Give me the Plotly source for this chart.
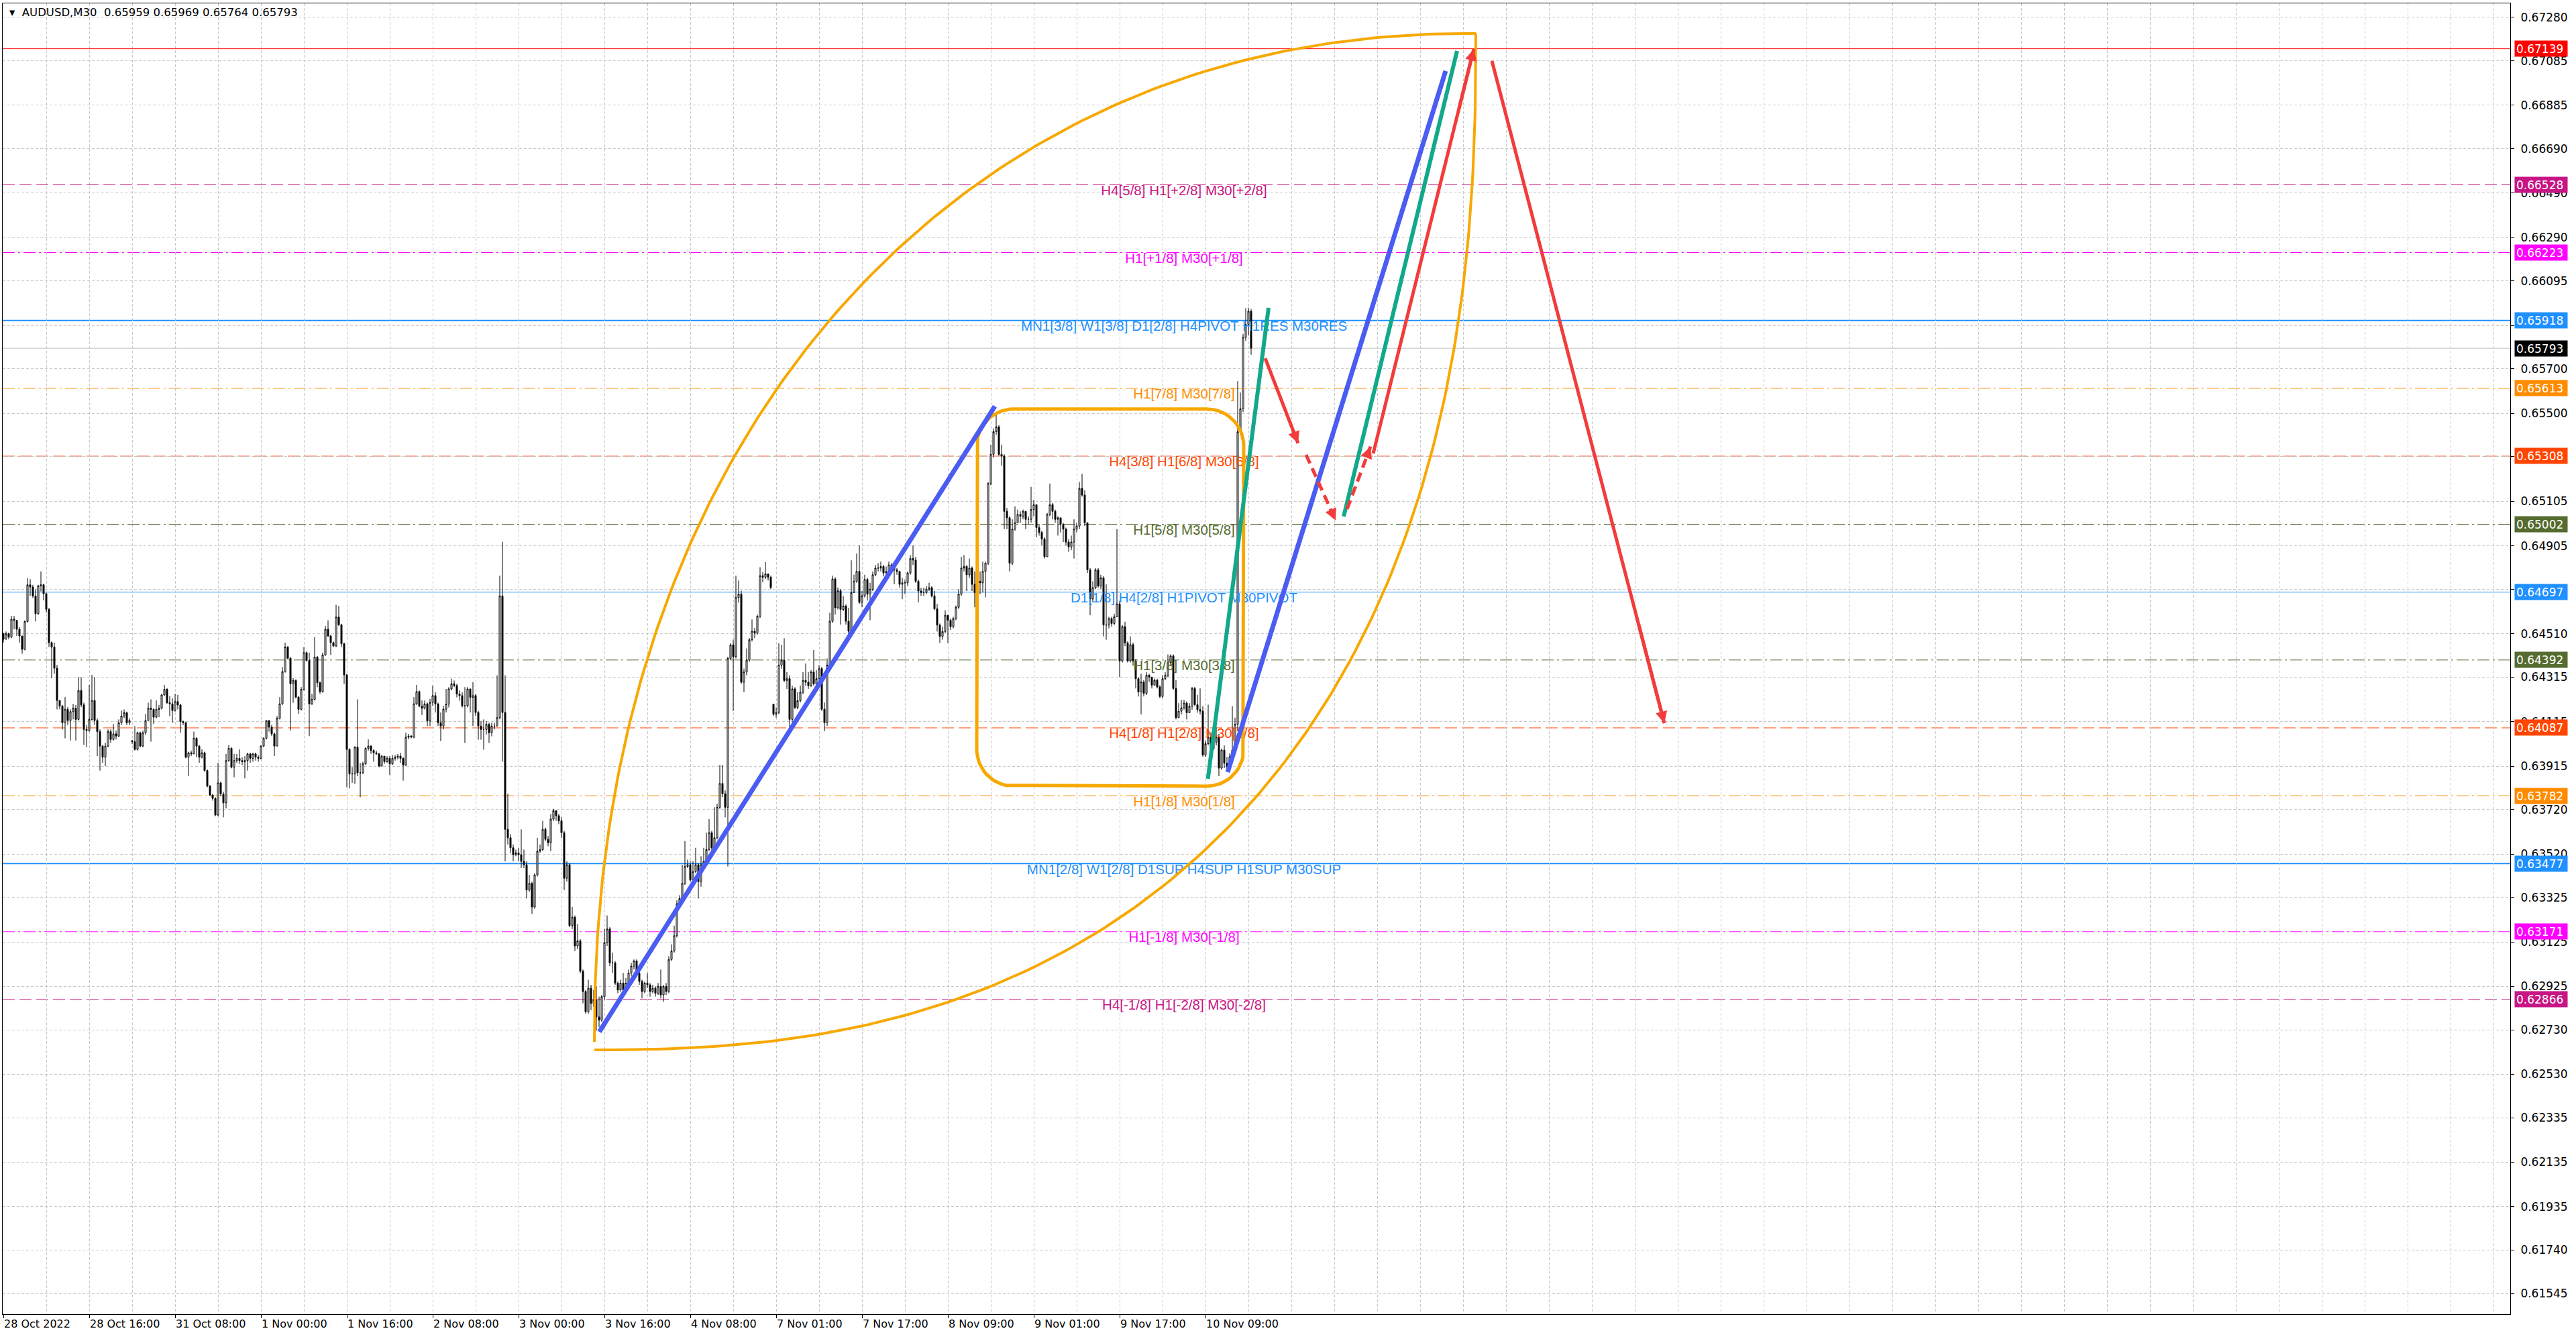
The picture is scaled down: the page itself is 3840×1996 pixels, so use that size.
import numpy as np
import plotly.graph_objects as go

# ---------------- DATA ----------------
title_symbol = "AUDUSD,M30"
title_ohlc = ["0.65959", "0.65969", "0.65764", "0.65793"]

first_open = 0.64510
gap_bars = [48, 287]
gap_opens = [0.64030, 0.64194]

close = [
 0.64485, 0.64510, 0.64495, 0.64575, 0.64570, 0.64530, 0.64500, 0.64440, 0.64565, 0.64730,
 0.64720, 0.64680, 0.64600, 0.64725, 0.64730, 0.64690, 0.64620, 0.64470, 0.64450, 0.64355,
 0.64210, 0.64185, 0.64110, 0.64170, 0.64120, 0.64160, 0.64175, 0.64125, 0.64255, 0.64190,
 0.64080, 0.64075, 0.64125, 0.64210, 0.64120, 0.64070, 0.64005, 0.63955, 0.64005, 0.64070,
 0.64035, 0.64060, 0.64050, 0.64110, 0.64140, 0.64155, 0.64110, 0.64120, 0.64025, 0.63990,
 0.64065, 0.64005, 0.64065, 0.64120, 0.64175, 0.64170, 0.64135, 0.64170, 0.64175, 0.64235,
 0.64260, 0.64200, 0.64195, 0.64165, 0.64205, 0.64190, 0.64115, 0.64110, 0.63955, 0.63975,
 0.63970, 0.64040, 0.64005, 0.63955, 0.63975, 0.63895, 0.63825, 0.63785, 0.63770, 0.63695,
 0.63840, 0.63790, 0.63750, 0.63940, 0.63995, 0.63910, 0.63940, 0.63950, 0.63940, 0.63935,
 0.63940, 0.63970, 0.63950, 0.63970, 0.63955, 0.63950, 0.64005, 0.64040, 0.64120, 0.64090,
 0.64060, 0.64005, 0.64130, 0.64195, 0.64340, 0.64450, 0.64400, 0.64285, 0.64300, 0.64225,
 0.64170, 0.64260, 0.64425, 0.64390, 0.64195, 0.64215, 0.64405, 0.64290, 0.64250, 0.64415,
 0.64530, 0.64500, 0.64470, 0.64455, 0.64585, 0.64550, 0.64465, 0.64325, 0.63990, 0.63880,
 0.63880, 0.64000, 0.63885, 0.63885, 0.63925, 0.63995, 0.64005, 0.63985, 0.63975, 0.63970,
 0.63915, 0.63960, 0.63935, 0.63950, 0.63925, 0.63950, 0.63955, 0.63960, 0.63950, 0.63920,
 0.64045, 0.64050, 0.64045, 0.64195, 0.64250, 0.64185, 0.64175, 0.64195,
 0.64118, 0.64201, 0.64232, 0.64194, 0.64110, 0.64095, 0.64171, 0.64194, 0.64262, 0.64285,
 0.64277, 0.64239, 0.64232, 0.64186, 0.64186, 0.64262, 0.64224, 0.64232, 0.64156, 0.64095,
 0.64080, 0.64080, 0.64103, 0.64065, 0.64095, 0.64095, 0.64133, 0.64680, 0.64156, 0.63631,
 0.63593, 0.63548, 0.63517, 0.63525, 0.63517, 0.63487, 0.63472, 0.63358, 0.63388, 0.63282,
 0.63426, 0.63533, 0.63540, 0.63631, 0.63586, 0.63571, 0.63677, 0.63715, 0.63692, 0.63669,
 0.63616, 0.63411, 0.63472, 0.63198, 0.63236, 0.63107, 0.63130, 0.62993, 0.62902, 0.62811,
 0.62917, 0.62849, 0.62864, 0.62788, 0.62773, 0.62879, 0.63122, 0.63183, 0.63031, 0.63031,
 0.62940, 0.62909, 0.62940, 0.62909, 0.62940, 0.62985, 0.63016, 0.63039, 0.62985, 0.62947,
 0.62902, 0.62940, 0.62932, 0.62902, 0.62917, 0.62894, 0.62925, 0.62887, 0.62925, 0.62902,
 0.63046, 0.63084, 0.63153, 0.63297, 0.63320, 0.63388, 0.63464, 0.63472, 0.63403, 0.63441,
 0.63472, 0.63396, 0.63472, 0.63487, 0.63540, 0.63616, 0.63548, 0.63593, 0.63730, 0.63837,
 0.63791, 0.63730, 0.64399, 0.64460, 0.64407, 0.64673, 0.64688, 0.64292, 0.64338, 0.64391,
 0.64483, 0.64521, 0.64513, 0.64589, 0.64771, 0.64764, 0.64779, 0.64764, 0.64718, 0.64148,
 0.64156, 0.64369, 0.64391, 0.64300, 0.64308, 0.64125, 0.64262, 0.64179, 0.64209, 0.64247,
 0.64300, 0.64292, 0.64277, 0.64338, 0.64285, 0.64308, 0.64353, 0.64171, 0.64110, 0.64369,
 0.64566, 0.64756, 0.64627, 0.64703, 0.64619, 0.64635, 0.64566, 0.64521, 0.64695,
 0.64746, 0.64790, 0.64651, 0.64680, 0.64754, 0.64688, 0.64710, 0.64775, 0.64805, 0.64805,
 0.64812, 0.64783, 0.64790, 0.64819, 0.64805, 0.64797, 0.64790, 0.64732, 0.64739, 0.64739,
 0.64783, 0.64848, 0.64841, 0.64746, 0.64702, 0.64695, 0.64695, 0.64710, 0.64717, 0.64680,
 0.64622, 0.64549, 0.64498, 0.64520, 0.64593, 0.64571, 0.64542, 0.64578, 0.64629, 0.64688,
 0.64805, 0.64812, 0.64775, 0.64805, 0.64732, 0.64695, 0.64746, 0.64739, 0.64790, 0.64827,
 0.65185, 0.65316, 0.65418, 0.65440, 0.65316, 0.65309, 0.65060, 0.65031, 0.64827, 0.64980,
 0.65009, 0.65046, 0.65038, 0.65060, 0.65024, 0.65024, 0.65068, 0.65090, 0.64987, 0.64965,
 0.64936, 0.64856, 0.65046, 0.65090, 0.65060, 0.65024, 0.65031, 0.65002, 0.64980, 0.64922,
 0.64900, 0.64922, 0.64980, 0.64994, 0.65163, 0.65133, 0.65009, 0.64797, 0.64666, 0.64717,
 0.64797, 0.64724, 0.64761, 0.64549, 0.64549, 0.64578, 0.64556, 0.64586, 0.64644, 0.64388,
 0.64542, 0.64469, 0.64388, 0.64461, 0.64388, 0.64308, 0.64249, 0.64293, 0.64242, 0.64323,
 0.64315, 0.64279, 0.64301, 0.64271, 0.64228, 0.64308, 0.64323, 0.64381, 0.64410, 0.64264,
 0.64133, 0.64162, 0.64177, 0.64198, 0.64155, 0.64184, 0.64264, 0.64191, 0.64169, 0.64162,
 0.63965, 0.64016, 0.64045, 0.63994, 0.64023, 0.64045, 0.63906, 0.63987, 0.63928, 0.63913,
 0.63957, 0.63987, 0.64103, 0.65418, 0.65521, 0.65842, 0.65900, 0.65959, 0.65793,
]

high = [
 0.64515, 0.64520, 0.64515, 0.64590, 0.64590, 0.64550, 0.64540, 0.64480, 0.64570, 0.64760,
 0.64755, 0.64730, 0.64710, 0.64730, 0.64790, 0.64735, 0.64695, 0.64625, 0.64475, 0.64470,
 0.64370, 0.64210, 0.64190, 0.64225, 0.64180, 0.64170, 0.64195, 0.64190, 0.64315, 0.64315,
 0.64200, 0.64100, 0.64280, 0.64325, 0.64315, 0.64130, 0.64080, 0.64010, 0.64020, 0.64080,
 0.64080, 0.64105, 0.64075, 0.64125, 0.64165, 0.64170, 0.64160, 0.64130, 0.64030, 0.64095,
 0.64070, 0.64070, 0.64075, 0.64150, 0.64200, 0.64215, 0.64175, 0.64210, 0.64190, 0.64240,
 0.64280, 0.64265, 0.64230, 0.64220, 0.64240, 0.64235, 0.64195, 0.64120, 0.64115, 0.63980,
 0.63985, 0.64070, 0.64045, 0.64010, 0.63990, 0.63980, 0.63900, 0.63830, 0.63790, 0.63775,
 0.63930, 0.63845, 0.63800, 0.63970, 0.64010, 0.64000, 0.63970, 0.63970, 0.63990, 0.63955,
 0.63960, 0.63975, 0.63975, 0.63975, 0.63975, 0.63965, 0.64010, 0.64045, 0.64120, 0.64120,
 0.64100, 0.64065, 0.64140, 0.64225, 0.64360, 0.64470, 0.64455, 0.64405, 0.64310, 0.64305,
 0.64230, 0.64270, 0.64450, 0.64430, 0.64425, 0.64240, 0.64495, 0.64410, 0.64295, 0.64425,
 0.64545, 0.64570, 0.64505, 0.64475, 0.64640, 0.64635, 0.64555, 0.64470, 0.64330, 0.63995,
 0.63910, 0.64005, 0.64215, 0.63930, 0.63935, 0.64000, 0.64035, 0.64010, 0.63990, 0.63985,
 0.63975, 0.63965, 0.63955, 0.63960, 0.63960, 0.63965, 0.63965, 0.63970, 0.63975, 0.63955,
 0.64065, 0.64060, 0.64055, 0.64225, 0.64280, 0.64255, 0.64210, 0.64210,
 0.64201, 0.64217, 0.64277, 0.64247, 0.64201, 0.64156, 0.64186, 0.64262, 0.64270, 0.64308,
 0.64300, 0.64285, 0.64255, 0.64247, 0.64270, 0.64270, 0.64239, 0.64292, 0.64239, 0.64163,
 0.64118, 0.64125, 0.64118, 0.64110, 0.64110, 0.64110, 0.64323, 0.64771, 0.64923, 0.64323,
 0.63791, 0.63609, 0.63563, 0.63540, 0.63548, 0.63631, 0.63540, 0.63487, 0.63426, 0.63396,
 0.63434, 0.63593, 0.63563, 0.63669, 0.63639, 0.63601, 0.63700, 0.63723, 0.63715, 0.63700,
 0.63685, 0.63624, 0.63487, 0.63479, 0.63282, 0.63244, 0.63206, 0.63137, 0.63001, 0.62909,
 0.62955, 0.62932, 0.62909, 0.62925, 0.62879, 0.62887, 0.63183, 0.63244, 0.63191, 0.63077,
 0.63039, 0.62947, 0.62955, 0.62985, 0.62963, 0.63001, 0.63031, 0.63046, 0.63046, 0.62993,
 0.62955, 0.62947, 0.62985, 0.62940, 0.62932, 0.62925, 0.62940, 0.63001, 0.62932, 0.62940,
 0.63061, 0.63114, 0.63198, 0.63312, 0.63335, 0.63472, 0.63578, 0.63495, 0.63487, 0.63487,
 0.63548, 0.63479, 0.63510, 0.63548, 0.63616, 0.63677, 0.63624, 0.63730, 0.63746, 0.63920,
 0.63920, 0.63806, 0.64407, 0.64467, 0.64483, 0.64771, 0.64749, 0.64703, 0.64353, 0.64444,
 0.64490, 0.64574, 0.64536, 0.64596, 0.64809, 0.64787, 0.64832, 0.64779, 0.64771, 0.64194,
 0.64179, 0.64467, 0.64460, 0.64490, 0.64338, 0.64323, 0.64277, 0.64270, 0.64247, 0.64277,
 0.64338, 0.64376, 0.64338, 0.64346, 0.64437, 0.64346, 0.64369, 0.64361, 0.64201, 0.64399,
 0.64604, 0.64771, 0.64764, 0.64718, 0.64711, 0.64680, 0.64642, 0.64627, 0.64840,
 0.64775, 0.64870, 0.64907, 0.64702, 0.64775, 0.64761, 0.64739, 0.64790, 0.64819, 0.64827,
 0.64834, 0.64819, 0.64812, 0.64834, 0.64827, 0.64805, 0.64805, 0.64790, 0.64761, 0.64754,
 0.64790, 0.64863, 0.64907, 0.64856, 0.64754, 0.64717, 0.64717, 0.64724, 0.64739, 0.64724,
 0.64702, 0.64644, 0.64556, 0.64542, 0.64615, 0.64593, 0.64578, 0.64586, 0.64637, 0.64710,
 0.64856, 0.64863, 0.64819, 0.64848, 0.64812, 0.64790, 0.64761, 0.64790, 0.64834, 0.64834,
 0.65192, 0.65360, 0.65433, 0.65506, 0.65448, 0.65360, 0.65316, 0.65075, 0.65038, 0.65024,
 0.65082, 0.65068, 0.65060, 0.65068, 0.65060, 0.65038, 0.65170, 0.65112, 0.65090, 0.65002,
 0.64973, 0.64943, 0.65053, 0.65185, 0.65097, 0.65068, 0.65038, 0.65031, 0.65009, 0.64987,
 0.64936, 0.64951, 0.65024, 0.65009, 0.65192, 0.65228, 0.65155, 0.65009, 0.64805, 0.64746,
 0.64805, 0.64805, 0.64775, 0.64768, 0.64732, 0.64586, 0.64586, 0.64600, 0.64980, 0.64658,
 0.64549, 0.64564, 0.64476, 0.64498, 0.64469, 0.64396, 0.64315, 0.64330, 0.64301, 0.64337,
 0.64330, 0.64315, 0.64308, 0.64308, 0.64279, 0.64323, 0.64337, 0.64417, 0.64417, 0.64417,
 0.64301, 0.64198, 0.64213, 0.64213, 0.64206, 0.64198, 0.64271, 0.64271, 0.64235, 0.64264,
 0.64184, 0.64030, 0.64191, 0.64067, 0.64060, 0.64089, 0.64060, 0.63994, 0.64008, 0.63957,
 0.63972, 0.64184, 0.64133, 0.65645, 0.65594, 0.65857, 0.65973, 0.65975, 0.65969,
]

low = [
 0.64470, 0.64490, 0.64485, 0.64490, 0.64530, 0.64500, 0.64470, 0.64420, 0.64435, 0.64560,
 0.64680, 0.64670, 0.64565, 0.64595, 0.64700, 0.64660, 0.64605, 0.64450, 0.64310, 0.64330,
 0.64170, 0.64170, 0.64080, 0.64040, 0.64100, 0.64030, 0.64125, 0.64030, 0.64120, 0.64180,
 0.64010, 0.64000, 0.64070, 0.64120, 0.64100, 0.63960, 0.63895, 0.63930, 0.63915, 0.64000,
 0.64020, 0.64030, 0.64035, 0.64045, 0.64100, 0.64130, 0.64100, 0.64100, 0.64015, 0.63985,
 0.63985, 0.64000, 0.64000, 0.64055, 0.64120, 0.64025, 0.64105, 0.64130, 0.64135, 0.64170,
 0.64230, 0.64195, 0.64140, 0.64110, 0.64160, 0.64170, 0.64065, 0.64100, 0.63950, 0.63870,
 0.63960, 0.63970, 0.63955, 0.63930, 0.63950, 0.63890, 0.63820, 0.63780, 0.63760, 0.63690,
 0.63690, 0.63780, 0.63685, 0.63725, 0.63935, 0.63905, 0.63865, 0.63930, 0.63925, 0.63920,
 0.63860, 0.63895, 0.63930, 0.63935, 0.63940, 0.63935, 0.63945, 0.64000, 0.64035, 0.64070,
 0.64050, 0.63960, 0.64005, 0.64125, 0.64190, 0.64335, 0.64395, 0.64075, 0.64200, 0.64220,
 0.64150, 0.64165, 0.64255, 0.64385, 0.64050, 0.64190, 0.64210, 0.64270, 0.64240, 0.64245,
 0.64410, 0.64495, 0.64415, 0.64450, 0.64450, 0.64545, 0.64450, 0.64285, 0.63820, 0.63815,
 0.63840, 0.63835, 0.63870, 0.63775, 0.63880, 0.63920, 0.63985, 0.63970, 0.63935, 0.63965,
 0.63910, 0.63915, 0.63925, 0.63930, 0.63875, 0.63920, 0.63940, 0.63945, 0.63930, 0.63850,
 0.63915, 0.64035, 0.64040, 0.64040, 0.64190, 0.64180, 0.64145, 0.64170,
 0.64095, 0.64095, 0.64186, 0.64156, 0.64095, 0.64027, 0.64080, 0.64156, 0.64179, 0.64255,
 0.64270, 0.64224, 0.64209, 0.64179, 0.64019, 0.64179, 0.64156, 0.64095, 0.64141, 0.64034,
 0.64034, 0.63989, 0.64057, 0.64019, 0.64049, 0.64080, 0.64095, 0.64125, 0.63935, 0.63487,
 0.63563, 0.63525, 0.63487, 0.63510, 0.63487, 0.63457, 0.63457, 0.63320, 0.63350, 0.63251,
 0.63274, 0.63419, 0.63525, 0.63533, 0.63578, 0.63555, 0.63533, 0.63669, 0.63669, 0.63654,
 0.63593, 0.63358, 0.63396, 0.63191, 0.63183, 0.63084, 0.63092, 0.62985, 0.62849, 0.62803,
 0.62803, 0.62818, 0.62833, 0.62727, 0.62742, 0.62765, 0.62864, 0.63107, 0.63016, 0.62985,
 0.62932, 0.62894, 0.62902, 0.62894, 0.62902, 0.62932, 0.62970, 0.63001, 0.62970, 0.62932,
 0.62871, 0.62894, 0.62917, 0.62879, 0.62894, 0.62879, 0.62887, 0.62871, 0.62856, 0.62887,
 0.62894, 0.63039, 0.63077, 0.63145, 0.63289, 0.63312, 0.63381, 0.63457, 0.63396, 0.63396,
 0.63434, 0.63320, 0.63373, 0.63464, 0.63479, 0.63533, 0.63533, 0.63540, 0.63586, 0.63723,
 0.63776, 0.63685, 0.63464, 0.64391, 0.64163, 0.64399, 0.64650, 0.64285, 0.64247, 0.64323,
 0.64384, 0.64475, 0.64490, 0.64505, 0.64581, 0.64741, 0.64756, 0.64749, 0.64711, 0.64141,
 0.64133, 0.64148, 0.64353, 0.64292, 0.64262, 0.64080, 0.64110, 0.64171, 0.64171, 0.64201,
 0.64239, 0.64277, 0.64262, 0.64270, 0.64277, 0.64277, 0.64292, 0.64163, 0.64072, 0.64095,
 0.64361, 0.64559, 0.64596, 0.64619, 0.64551, 0.64612, 0.64551, 0.64505, 0.64513,
 0.64717, 0.64739, 0.64644, 0.64629, 0.64673, 0.64659, 0.64571, 0.64702, 0.64768, 0.64790,
 0.64790, 0.64768, 0.64775, 0.64783, 0.64790, 0.64732, 0.64775, 0.64717, 0.64666, 0.64688,
 0.64724, 0.64775, 0.64819, 0.64739, 0.64651, 0.64680, 0.64680, 0.64688, 0.64702, 0.64673,
 0.64615, 0.64520, 0.64469, 0.64483, 0.64512, 0.64469, 0.64527, 0.64534, 0.64571, 0.64622,
 0.64680, 0.64790, 0.64702, 0.64761, 0.64702, 0.64629, 0.64695, 0.64688, 0.64695, 0.64673,
 0.64819, 0.65177, 0.65302, 0.65404, 0.65309, 0.65265, 0.64980, 0.64980, 0.64790, 0.64819,
 0.64973, 0.65009, 0.65009, 0.65024, 0.64980, 0.65002, 0.65009, 0.65038, 0.64943, 0.64951,
 0.64907, 0.64848, 0.64856, 0.65038, 0.65024, 0.65009, 0.64951, 0.64965, 0.64922, 0.64907,
 0.64878, 0.64885, 0.64848, 0.64965, 0.64980, 0.65126, 0.64994, 0.64783, 0.64593, 0.64651,
 0.64710, 0.64717, 0.64710, 0.64498, 0.64483, 0.64534, 0.64542, 0.64549, 0.64629, 0.64315,
 0.64381, 0.64454, 0.64381, 0.64381, 0.64366, 0.64264, 0.64228, 0.64147, 0.64228, 0.64235,
 0.64293, 0.64264, 0.64279, 0.64264, 0.64220, 0.64220, 0.64301, 0.64315, 0.64366, 0.64257,
 0.64125, 0.64133, 0.64147, 0.64169, 0.64125, 0.64155, 0.64169, 0.64184, 0.64155, 0.64147,
 0.63957, 0.63957, 0.64008, 0.63987, 0.63987, 0.64008, 0.63870, 0.63899, 0.63906, 0.63906,
 0.63906, 0.63950, 0.63972, 0.64074, 0.65404, 0.65506, 0.65827, 0.65850, 0.65764,
]

# time axis labels (bar index of label, text)
x_tick_bars = [0, 32, 64, 96, 128, 160, 192, 224, 256, 288, 320, 352, 384, 416, 448]
x_tick_text = ["28 Oct 2022", "28 Oct 16:00", "31 Oct 08:00", "1 Nov 00:00", "1 Nov 16:00",
               "2 Nov 08:00", "3 Nov 00:00", "3 Nov 16:00", "4 Nov 08:00", "7 Nov 01:00",
               "7 Nov 17:00", "8 Nov 09:00", "9 Nov 01:00", "9 Nov 17:00", "10 Nov 09:00"]

y_tick_vals = [0.67280, 0.67085, 0.66885, 0.66690, 0.66490, 0.66290, 0.66095, 0.65895,
               0.65700, 0.65500, 0.65305, 0.65105, 0.64905, 0.64710, 0.64510, 0.64315,
               0.64115, 0.63915, 0.63720, 0.63520, 0.63325, 0.63125, 0.62925, 0.62730,
               0.62530, 0.62335, 0.62135, 0.61935, 0.61740, 0.61545]
# tick values whose label sits fully under a price tag in the reference
y_tick_hidden = [0.65895, 0.65305, 0.64710]

# Murrey-math style levels
level_prices = [0.67139, 0.66528, 0.66223, 0.65918, 0.65613, 0.65308, 0.65002,
                0.64697, 0.64392, 0.64087, 0.63782, 0.63477, 0.63171, 0.62866]
level_labels = ["", "H4[5/8] H1[+2/8] M30[+2/8]", "H1[+1/8] M30[+1/8]",
                "MN1[3/8] W1[3/8] D1[2/8] H4PIVOT H1RES M30RES", "H1[7/8] M30[7/8]",
                "H4[3/8] H1[6/8] M30[6/8]", "H1[5/8] M30[5/8]",
                "D1[1/8] H4[2/8] H1PIVOT M30PIVOT", "H1[3/8] M30[3/8]",
                "H4[1/8] H1[2/8] M30[2/8]", "H1[1/8] M30[1/8]",
                "MN1[2/8] W1[2/8] D1SUP H4SUP H1SUP M30SUP", "H1[-1/8] M30[-1/8]",
                "H4[-1/8] H1[-2/8] M30[-2/8]"]
level_colors = ["#FF0000", "#C71585", "#FF00FF", "#1E90FF", "#FF8C00", "#FF4500", "#556B2F",
                "#1E90FF", "#556B2F", "#FF4500", "#FF8C00", "#1E90FF", "#FF00FF", "#C71585"]
level_styles = ["solid", "dash", "dashdot", "solid", "dashdot", "dash", "dashdot",
                "solid", "dashdot", "dash", "dashdot", "solid", "dashdot", "dash"]
level_widths = [1, 1, 1, 2, 1, 1, 1, 1, 1, 1, 1, 2, 1, 1]
label_bar = 440

bid_price = 0.65793

# drawn objects (bar index, price)
# lens made of two quarter-superellipse arcs sharing end bars
arc_bars = [220.25, 548.75]
arc_upper_prices = [0.62676, 0.67208]
arc_lower_prices = [0.62640, 0.67208]
arc_upper_power = 2.15
arc_lower_power = 2.42

box_bars = [362.75, 462.25]
box_prices = [0.63825, 0.65520]
box_corner_px = 55

blue_bars = [[222.1, 369.5], [456.25, 537.5]]
blue_prices = [[0.62721, 0.65532], [0.63888, 0.67039]]
green_bars = [[448.9, 471.5], [499.5, 541.75]]
green_prices = [[0.63858, 0.65975], [0.65037, 0.67129]]
red_bars = [[470.25, 482.5], [485.5, 496.5], [500.75, 509.5], [510.5, 548.0], [554.75, 619.0]]
red_prices = [[0.65748, 0.65366], [0.65314, 0.65019], [0.65070, 0.65351], [0.65320, 0.67138],
              [0.67084, 0.64108]]
red_dashed = [False, True, True, False, False]

# ---------------- FIGURE ----------------
W, H = 3840, 1996
ML, MR, MT, MB = 4, 98, 5, 37
x_range = [-0.25, 934.25]
y_range = [0.61452, 0.67343]
px_per_bar = (W - ML - MR) / (x_range[1] - x_range[0])
px_per_price = (H - MT - MB) / (y_range[1] - y_range[0])

n = len(close)
assert len(high) == n and len(low) == n, (len(close), len(high), len(low))
bars = list(range(n))
opens = [first_open] + close[:-1]
for b, o in zip(gap_bars, gap_opens):
    opens[b] = o
hi = [max(h, o, c) for h, o, c in zip(high, opens, close)]
lo = [min(l, o, c) for l, o, c in zip(low, opens, close)]

FONT = "DejaVu Sans"
LABEL_FONT = "Liberation Sans, Arial, sans-serif"
DASHES = {"solid": "solid", "dash": "18px,7px", "dashdot": "18px,5px,3px,5px"}

fig = go.Figure()

# level labels (drawn beneath the candles)
lab_idx = [k for k, t in enumerate(level_labels) if t]
fig.add_trace(go.Scatter(
    x=[label_bar] * len(lab_idx), y=[level_prices[k] for k in lab_idx],
    text=[level_labels[k] for k in lab_idx], mode="text", textposition="bottom center",
    textfont=dict(family=LABEL_FONT, size=20.5, color=[level_colors[k] for k in lab_idx]),
    hoverinfo="skip", showlegend=False))

fig.add_trace(go.Candlestick(
    x=bars, open=opens, high=hi, low=lo, close=close,
    increasing=dict(line=dict(color="black", width=1), fillcolor="white"),
    decreasing=dict(line=dict(color="black", width=1), fillcolor="black"),
    whiskerwidth=0, showlegend=False, hoverinfo="skip"))

ORANGE = "#F7A800"
theta = np.linspace(0.0, np.pi / 2, 160)
a_bar = arc_bars[1] - arc_bars[0]
# upper arc: leaves the start point vertically, reaches the end point horizontally
b_up = arc_upper_prices[1] - arc_upper_prices[0]
ux = arc_bars[1] - a_bar * np.cos(theta) ** (2 / arc_upper_power)
uy = arc_upper_prices[0] + b_up * np.sin(theta) ** (2 / arc_upper_power)
# lower arc: leaves the start point horizontally, reaches the end point vertically
b_lo = arc_lower_prices[1] - arc_lower_prices[0]
lx = arc_bars[0] + a_bar * np.cos(theta) ** (2 / arc_lower_power)
ly = arc_lower_prices[1] - b_lo * np.sin(theta) ** (2 / arc_lower_power)
for xs, ys in [(ux, uy), (lx, ly)]:
    fig.add_trace(go.Scatter(x=xs, y=ys, mode="lines", line=dict(color=ORANGE, width=4),
                             hoverinfo="skip", showlegend=False))

# rounded rectangle
rx = box_corner_px / px_per_bar
ry = box_corner_px / px_per_price
x0, x1 = box_bars
y0, y1 = box_prices
bx, by = [], []
for cx, cy, a0, a1 in [(x1 - rx, y1 - ry, 90, 0), (x1 - rx, y0 + ry, 0, -90),
                       (x0 + rx, y0 + ry, -90, -180), (x0 + rx, y1 - ry, 180, 90)]:
    t = np.radians(np.linspace(a0, a1, 16))
    bx += list(cx + rx * np.cos(t))
    by += list(cy + ry * np.sin(t))
bx.append(bx[0]); by.append(by[0])
fig.add_trace(go.Scatter(x=bx, y=by, mode="lines", line=dict(color=ORANGE, width=5),
                         hoverinfo="skip", showlegend=False))

for xs, ys in zip(blue_bars, blue_prices):
    fig.add_trace(go.Scatter(x=xs, y=ys, mode="lines", line=dict(color="#4A5CF2", width=7),
                             hoverinfo="skip", showlegend=False))
for xs, ys in zip(green_bars, green_prices):
    fig.add_trace(go.Scatter(x=xs, y=ys, mode="lines", line=dict(color="#12A88A", width=6),
                             hoverinfo="skip", showlegend=False))
RED = "#F23C3C"
for xs, ys, d in zip(red_bars, red_prices, red_dashed):
    fig.add_trace(go.Scatter(x=xs, y=ys, mode="lines",
                             line=dict(color=RED, width=5, dash="14px,8px" if d else "solid"),
                             hoverinfo="skip", showlegend=False))
    tx = xs[1] - 0.15 * (xs[1] - xs[0])
    ty = ys[1] - 0.15 * (ys[1] - ys[0])
    fig.add_annotation(x=xs[1], y=ys[1], ax=tx, ay=ty, xref="x", yref="y", axref="x", ayref="y",
                       text="", showarrow=True, arrowhead=2, arrowsize=0.7, arrowwidth=5,
                       arrowcolor=RED, standoff=0, startstandoff=0)

# horizontal levels
for p, c, s, w in zip(level_prices, level_colors, level_styles, level_widths):
    fig.add_shape(type="line", xref="paper", x0=0, x1=1, yref="y", y0=p, y1=p,
                  line=dict(color=c, width=w, dash=DASHES[s]), layer="between")
fig.add_shape(type="line", xref="paper", x0=0, x1=1, yref="y", y0=bid_price, y1=bid_price,
              line=dict(color="#C0C0C0", width=1), layer="between")

# price tags on the right axis
tag_prices = level_prices + [bid_price]
tag_colors = ["#FF0000", "#C71585", "#FF00FF", "#1E90FF", "#FF8C00", "#FF4500", "#556B2F",
              "#1E90FF", "#556B2F", "#FF4500", "#FF8C00", "#1E90FF", "#FF00FF", "#C71585",
              "#000000"]
for p, c in zip(tag_prices, tag_colors):
    fig.add_annotation(xref="paper", x=1, xanchor="left", xshift=6, yref="y", y=p,
                       yanchor="middle", text=f"{p:.5f}", showarrow=False, bgcolor=c,
                       font=dict(family=FONT, size=17, color="white"), width=74, height=19,
                       borderpad=2, align="left")

# title
fig.add_annotation(xref="paper", yref="paper", x=0, y=1, xanchor="left", yanchor="top",
                   xshift=8, yshift=-2, showarrow=False, align="left",
                   text="▾\u00a0\u00a0" + title_symbol + "\u00a0\u00a0" + "\u00a0".join(title_ohlc),
                   font=dict(family=FONT, size=16.5, color="black"))

y_tick_text = ["" if any(abs(v - h) < 1e-9 for h in y_tick_hidden) else f"{v:.5f}"
               for v in y_tick_vals]

fig.update_layout(
    width=W, height=H, autosize=False,
    margin=dict(l=ML, r=MR, t=MT, b=MB),
    paper_bgcolor="white", plot_bgcolor="white",
    showlegend=False, hovermode=False,
    xaxis=dict(range=x_range, rangeslider=dict(visible=False), tickmode="array",
               tickvals=x_tick_bars, ticktext=x_tick_text, ticks="outside", ticklen=5,
               tickcolor="black", ticklabelposition="outside right",
               tickfont=dict(family=FONT, size=16, color="black"),
               showgrid=True, gridcolor="#C8C8C8", griddash="4px,3px", gridwidth=1,
               minor=dict(dtick=16, tick0=0, showgrid=True, gridcolor="#C8C8C8",
                          griddash="4px,3px", ticks=""),
               showline=True, linecolor="black", linewidth=1, mirror=True, zeroline=False),
    yaxis=dict(range=y_range, side="right", tickmode="array", tickvals=y_tick_vals,
               ticktext=y_tick_text, ticks="outside", ticklen=5,
               tickcolor="black", ticklabelstandoff=6,
               tickfont=dict(family=FONT, size=17, color="black"),
               showgrid=True, gridcolor="#C8C8C8", griddash="4px,3px", gridwidth=1,
               showline=True, linecolor="black", linewidth=1, mirror=True, zeroline=False),
)

fig.write_html("out.html", include_plotlyjs=True, config={"displayModeBar": False},
               post_script="document.body.style.margin='0';document.body.style.overflow='hidden';")
